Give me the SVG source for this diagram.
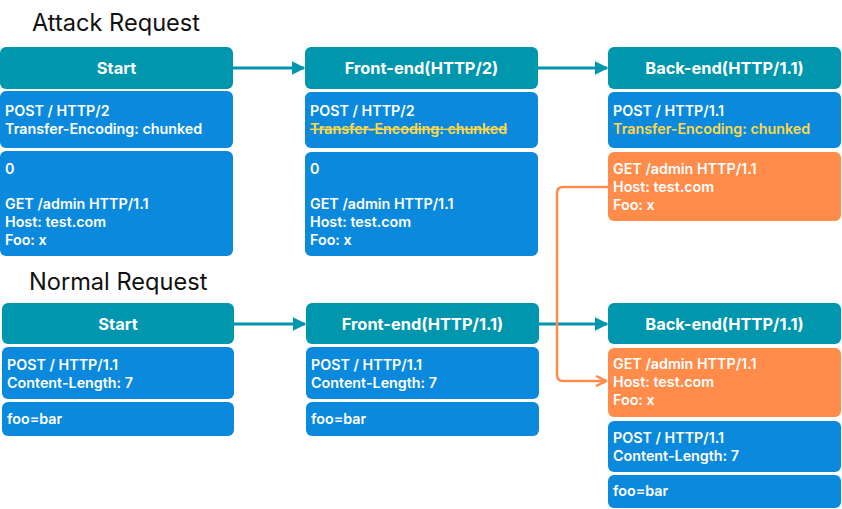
<svg xmlns="http://www.w3.org/2000/svg" width="842" height="509" viewBox="0 0 842 509">
<defs>
<marker id="ah" viewBox="0 0 10 10" refX="9" refY="5" markerWidth="4.5" markerHeight="4.5" orient="auto" markerUnits="strokeWidth"><path d="M0,0 L10,5 L0,10 z" fill="#0096AD"/></marker>
<marker id="ao" viewBox="0 0 10 10" refX="9" refY="5" markerWidth="5" markerHeight="5" orient="auto" markerUnits="strokeWidth"><path d="M1,1 L9,5 L1,9" fill="none" stroke="#FF8C4A" stroke-width="2"/></marker>
<style>
.hd{fill:#0096AD}
.bd{fill:#0B8ADD}
.or{fill:#FF8C4A}
.ht{font-family:Inter,"Noto Sans",sans-serif;font-size:16.4px;font-weight:700;fill:#fff;text-anchor:middle}
.t{font-family:Inter,"Noto Sans",sans-serif;font-size:14.3px;font-weight:600;fill:#fff}
.y{fill:#FFD84A}
.ti{font-family:Inter,"Noto Sans",sans-serif;font-size:23.6px;fill:#111}
.c{fill:none;stroke:#0096AD;stroke-width:3}
.co{fill:none;stroke:#FF8C4A;stroke-width:2.5}
</style>
</defs>
<text class="ti" x="32" y="31">Attack Request</text>
<text class="ti" x="29" y="290">Normal Request</text>
<g id="connectors">
<path class="c" d="M233,68 H304" marker-end="url(#ah)"/>
<path class="c" d="M538,68 H607" marker-end="url(#ah)"/>
<path class="c" d="M234,324 H305" marker-end="url(#ah)"/>
<path class="c" d="M539,324 H607" marker-end="url(#ah)"/>
<path class="co" d="M608,187 H563 Q557,187 557,193 V375 Q557,381 563,381 H606" marker-end="url(#ao)"/>
</g>
<g id="attack-start">
<rect class="hd" x="0" y="47" width="233" height="42" rx="6"/>
<text class="ht" x="116.5" y="74">Start</text>
<rect class="bd" x="0" y="91" width="233" height="57" rx="6"/>
<text class="t" x="5" y="116">POST / HTTP/2</text>
<text class="t" x="5" y="134">Transfer-Encoding: chunked</text>
<rect class="bd" x="0" y="151" width="233" height="105" rx="6"/>
<text class="t" x="5" y="174">0</text>
<text class="t" x="5" y="209">GET /admin HTTP/1.1</text>
<text class="t" x="5" y="227">Host: test.com</text>
<text class="t" x="5" y="245">Foo: x</text>
</g>
<g id="attack-frontend">
<rect class="hd" x="305" y="47" width="233" height="42" rx="6"/>
<text class="ht" x="421.5" y="74">Front-end(HTTP/2)</text>
<rect class="bd" x="305" y="92" width="233" height="56" rx="6"/>
<text class="t" x="310" y="116">POST / HTTP/2</text>
<text class="t y" x="310" y="134" text-decoration="line-through">Transfer-Encoding: chunked</text>
<rect class="bd" x="305" y="152" width="233" height="104" rx="6"/>
<text class="t" x="310" y="174">0</text>
<text class="t" x="310" y="209">GET /admin HTTP/1.1</text>
<text class="t" x="310" y="227">Host: test.com</text>
<text class="t" x="310" y="245">Foo: x</text>
</g>
<g id="attack-backend">
<rect class="hd" x="608" y="47" width="233" height="42" rx="6"/>
<text class="ht" x="724.5" y="74">Back-end(HTTP/1.1)</text>
<rect class="bd" x="608" y="92" width="233" height="56" rx="6"/>
<text class="t" x="613" y="116">POST / HTTP/1.1</text>
<text class="t y" x="613" y="134">Transfer-Encoding: chunked</text>
<rect class="or" x="608" y="152" width="233" height="69" rx="6"/>
<text class="t" x="613" y="174">GET /admin HTTP/1.1</text>
<text class="t" x="613" y="192">Host: test.com</text>
<text class="t" x="613" y="210">Foo: x</text>
</g>
<g id="normal-start">
<rect class="hd" x="2" y="303" width="232" height="41" rx="6"/>
<text class="ht" x="118" y="330">Start</text>
<rect class="bd" x="2" y="347" width="232" height="52" rx="6"/>
<text class="t" x="7" y="370">POST / HTTP/1.1</text>
<text class="t" x="7" y="388">Content-Length: 7</text>
<rect class="bd" x="2" y="402" width="232" height="34" rx="6"/>
<text class="t" x="7" y="424">foo=bar</text>
</g>
<g id="normal-frontend">
<rect class="hd" x="306" y="303" width="233" height="41" rx="6"/>
<text class="ht" x="422.5" y="330">Front-end(HTTP/1.1)</text>
<rect class="bd" x="306" y="347" width="233" height="52" rx="6"/>
<text class="t" x="311" y="370">POST / HTTP/1.1</text>
<text class="t" x="311" y="388">Content-Length: 7</text>
<rect class="bd" x="306" y="402" width="233" height="34" rx="6"/>
<text class="t" x="311" y="424">foo=bar</text>
</g>
<g id="normal-backend">
<rect class="hd" x="608" y="303" width="233" height="41" rx="6"/>
<text class="ht" x="724.5" y="330">Back-end(HTTP/1.1)</text>
<rect class="or" x="608" y="348" width="233" height="69" rx="6"/>
<text class="t" x="613" y="369">GET /admin HTTP/1.1</text>
<text class="t" x="613" y="387">Host: test.com</text>
<text class="t" x="613" y="405">Foo: x</text>
<rect class="bd" x="608" y="421" width="233" height="51" rx="6"/>
<text class="t" x="613" y="443">POST / HTTP/1.1</text>
<text class="t" x="613" y="461">Content-Length: 7</text>
<rect class="bd" x="608" y="475" width="233" height="33" rx="6"/>
<text class="t" x="613" y="496">foo=bar</text>
</g>
</svg>
